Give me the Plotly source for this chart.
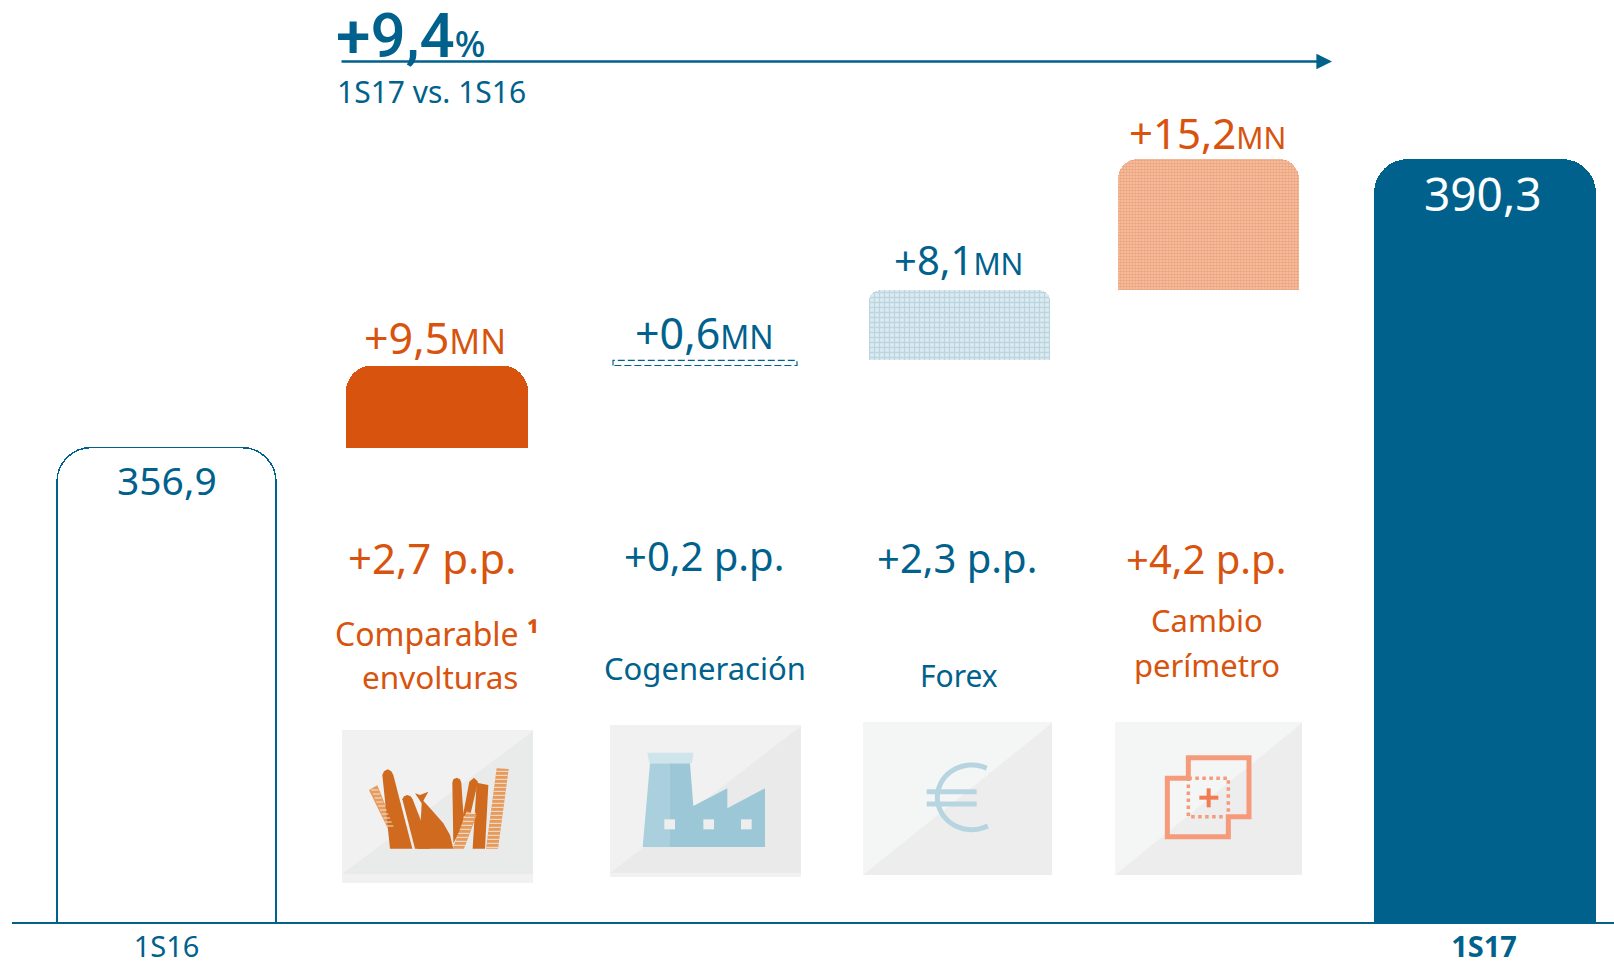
import math
import plotly.graph_objects as go

# ---------- data ----------
CATEGORIES = ["1S16", "Comparable envolturas", "Cogeneración", "Forex", "Cambio perímetro", "1S17"]
START_VALUE = 356.9
END_VALUE = 390.3
STEP_VALUES = [9.5, 0.6, 8.1, 15.2]
STEP_TEXT = ["+9,5", "+0,6", "+8,1", "+15,2"]
PP_TEXT = ["+2,7 p.p.", "+0,2 p.p.", "+2,3 p.p.", "+4,2 p.p."]
TICK_TEXT = ["1S16", "<b>1S17</b>"]

# ---------- layout constants ----------
W, H = 1614, 964
BASE_PX = 922
Y_MIN, Y_MAX = 302.0, 408.7
SLOT = [166.5, 437, 705, 959.5, 1208.5, 1485]
WIDTH = [219, 182, 184, 181, 181, 222]
BLUE = "#00628C"
ORANGE = "#D8530D"
FONT = "Noto Sans"


def fx(x):
    return x / W


def fy(y):
    return 1 - y / H


def poly(points, close=True):
    s = "M " + " L ".join(f"{fx(x):.5f},{fy(y):.5f}" for x, y in points)
    return s + (" Z" if close else "")


shapes = []


def add_path(points, fill=None, line=None, lw=0, close=True, dash=None):
    d = dict(type="path", xref="paper", yref="paper", path=poly(points, close), layer="below")
    d["fillcolor"] = fill if fill else "rgba(0,0,0,0)"
    d["line"] = dict(color=line if line else "rgba(0,0,0,0)", width=lw)
    if dash:
        d["line"]["dash"] = dash
    shapes.append(d)


def panel(x0, y0, x1, y1, light, dark, dy=0):
    add_path([(x0, y0), (x1, y0), (x1, y1), (x0, y1)], fill=light)
    add_path([(x1, y0 + 1), (x1, y1 - dy), (x0, y1 - dy)], fill=dark)


def z2(pts):
    return [(320 + x / 3, 710 + y / 3) for x, y in pts]


def z3(pts):
    return [(850 + x / 3, 710 + y / 3) for x, y in pts]


# pictogram 1: casings
panel(342, 730, 533, 883, "#F1F1F1", "#E9EAEA", dy=9)
OR = "#CF6A1E"
ORL = "#E59A5E"
add_path(z2([(147, 240), (172, 226), (222, 350), (203, 355)]), fill=ORL)
add_path(z2([(187, 195), (192, 184), (203, 178), (214, 184), (220, 195), (277, 416), (210, 416)]), fill=OR)
add_path(z2([(247, 268), (252, 259), (262, 255), (272, 259), (278, 268), (300, 325), (330, 416), (285, 416)]), fill=OR)
add_path(z2([(285, 250), (300, 255), (325, 245), (310, 272), (335, 300), (370, 340), (390, 375), (400, 416),
             (292, 416), (303, 320), (305, 280)]), fill=OR)
add_path(z2([(397, 218), (400, 208), (410, 203), (420, 208), (424, 218), (432, 340), (400, 400)]), fill=OR)
add_path(z2([(428, 320), (448, 215), (462, 203), (474, 215), (452, 310)]), fill=OR)
add_path(z2([(470, 218), (505, 225), (495, 416), (458, 416)]), fill=OR)
add_path(z2([(440, 303), (470, 315), (432, 416), (398, 416)]), fill=ORL)
add_path(z2([(530, 175), (566, 177), (534, 416), (498, 416)]), fill=ORL)
# white hatching of the netted casings
for yy in range(184, 416, 12):
    t_ = (yy - 175) / 241
    add_path(z2([(530 - 32 * t_, yy), (566 - 32 * t_, yy)]), line="#F6E3D2", lw=1, close=False)
for yy in range(310, 416, 12):
    t_ = (yy - 303) / 113
    add_path(z2([(440 - 42 * t_, yy), (470 - 38 * t_, yy)]), line="#F6E3D2", lw=1, close=False)
for yy in range(240, 352, 12):
    t_ = (yy - 233) / 120
    add_path(z2([(150 + 53 * t_, yy), (172 + 50 * t_, yy)]), line="#F6E3D2", lw=1, close=False)

# pictogram 2: factory
panel(610, 725, 801, 877, "#F1F1F1", "#EAEAEA", dy=4)
add_path(z2([(990, 160), (1050, 160), (1050, 411), (968, 411)]), fill="#A9D0DC")
add_path(z2([(1050, 160), (1110, 160), (1120, 288), (1222, 235), (1222, 295), (1335, 235), (1335, 411), (1050, 411)]), fill="#9CC7D6")
add_path(z2([(982, 128), (1120, 128), (1116, 160), (988, 160)]), fill="#CFE5EC")
for wx in (1033, 1150, 1263):
    add_path(z2([(wx, 328), (wx + 32, 328), (wx + 32, 358), (wx, 358)]), fill="#EEEEEE")

# pictogram 3: euro
panel(863, 722, 1052, 875, "#F4F6F6", "#EDEDED")
EU = "#B6D5E0"
arc = [(365 - 103 * math.cos(math.radians(a)), 262 - 97 * math.sin(math.radians(a))) for a in range(-118, 119, 6)]
add_path(z3(arc), line=EU, lw=5, close=False)
add_path(z3([(230, 245), (380, 245)]), line=EU, lw=5, close=False)
add_path(z3([(230, 282), (380, 282)]), line=EU, lw=5, close=False)

# pictogram 4: perimeter
panel(1115, 722, 1302, 875, "#F4F6F6", "#EDEDED")
add_path(z3([(1015, 143), (1197, 143), (1197, 320), (1135, 320), (1135, 380), (952, 380), (952, 205), (1015, 205)]),
         line="#F59A7B", lw=5)
add_path(z3([(1015, 205), (1135, 205), (1135, 320), (1015, 320)]), line="#F59A7B", lw=3.5, dash="dot")
add_path(z3([(1048, 263), (1105, 263)]), line="#F27B52", lw=4, close=False)
add_path(z3([(1076, 235), (1076, 292)]), line="#F27B52", lw=4, close=False)

# ---------- marks ----------
tops = [START_VALUE]
for v in STEP_VALUES:
    tops.append(tops[-1] + v)
bases = tops[:-1]
step_tops = tops[1:]

fig = go.Figure()
fig.add_bar(x=[SLOT[0]], y=[START_VALUE], width=[WIDTH[0]], name=CATEGORIES[0],
            marker=dict(color="white", line=dict(color=BLUE, width=1.5), cornerradius=34))
fig.add_bar(x=[SLOT[5]], y=[END_VALUE], width=[WIDTH[5]], name=CATEGORIES[5],
            marker=dict(color=BLUE, line=dict(width=0), cornerradius=38))

# each rounded step lives on its own overlaid y axis, so its corner radius stays its own
step_styles = [
    dict(color=ORANGE, cornerradius=26),
    dict(color="rgba(0,0,0,0)"),
    dict(color="#C7DDE6", cornerradius=10,
         pattern=dict(shape="+", fgcolor="#9CC1D2", bgcolor="#DDEAF0", size=5, solidity=0.45)),
    dict(color="#F3B896", cornerradius=20,
         pattern=dict(shape=".", fgcolor="#E5804F", bgcolor="#F5C5A9", size=3, solidity=0.6)),
]
for i, v in enumerate(STEP_VALUES):
    ya = f"y{i + 2}"
    fig.add_bar(x=[SLOT[i + 1]], y=[bases[i]], width=[WIDTH[i + 1]], yaxis=ya, name="base",
                marker=dict(color="rgba(0,0,0,0)", line=dict(width=0), cornerradius=step_styles[i].get("cornerradius", 0)))
    fig.add_bar(x=[SLOT[i + 1]], y=[v], width=[WIDTH[i + 1]], yaxis=ya, name=CATEGORIES[i + 1],
                marker=dict(line=dict(width=0), **step_styles[i]))

# dashed outline of the very thin step
c, w, b, t = SLOT[2], WIDTH[2], bases[1], step_tops[1]
fig.add_scatter(x=[c - w / 2, c - w / 2, c + w / 2, c + w / 2, c - w / 2], y=[b, t, t, b, b], mode="lines",
                line=dict(color=BLUE, width=1.2, dash="7px,3px"), name=CATEGORIES[2])

ann = []


def label(text, x, y, size, color, anchor="center", weight=None, family=FONT):
    f = dict(family=family, size=size, color=color)
    if weight:
        f["weight"] = weight
    ann.append(dict(text=text, x=fx(x), y=fy(y), xref="paper", yref="paper", showarrow=False,
                    xanchor=anchor, yanchor="middle", font=f))


# headline: Roboto has a lower ascent, so the text box stays inside the page
label(f'+9,4<span style="font-size:36px;font-family:\'{FONT}\'">%</span>', 334, 35.5, 62, BLUE, "left", 500, "Roboto")
label("1S17 vs. 1S16", 335, 91, 30, BLUE, "left")

# growth arrow
ann.append(dict(text="", x=fx(1332), y=fy(61.5), xref="paper", yref="paper", axref="pixel", ayref="pixel",
                ax=-992, ay=0, showarrow=True, arrowhead=2, arrowsize=1.3, arrowwidth=2.4, arrowcolor=BLUE))

step_colors = [ORANGE, BLUE, BLUE, ORANGE]
step_sizes = [(43, 34), (43, 32), (40, 30), (42, 30)]
step_shift = [-3, -4, 1, -4]
step_x = [435, 704, 958, 1207]
for i, txt in enumerate(STEP_TEXT):
    s, m = step_sizes[i]
    ann.append(dict(text=f'{txt}<span style="font-size:{m}px">MN</span>', x=step_x[i], y=step_tops[i],
                    xref="x", yref="y", showarrow=False, xanchor="center", yanchor="bottom", yshift=step_shift[i],
                    font=dict(family=FONT, size=s, color=step_colors[i])))

ann.append(dict(text=f"{START_VALUE}".replace(".", ","), x=SLOT[0], y=START_VALUE, xref="x", yref="y",
                showarrow=False, yanchor="top", yshift=-3, font=dict(family=FONT, size=39, color=BLUE)))
ann.append(dict(text=f"{END_VALUE}".replace(".", ","), x=1483, y=END_VALUE, xref="x", yref="y",
                showarrow=False, yanchor="top", yshift=-1, font=dict(family=FONT, size=46, color="white")))

pp_x = [432, 703.5, 957, 1206]
pp_y = [557, 555, 557, 558]
pp_size = [42, 40, 40, 40]
for i, txt in enumerate(PP_TEXT):
    label(txt, pp_x[i], pp_y[i], pp_size[i], step_colors[i])

label("Comparable <b>¹</b>", 437, 633, 32, ORANGE)
label("envolturas", 440.5, 676, 31.5, ORANGE)
label("Cogeneración", 704.5, 668, 31, BLUE)
label("Forex", 959, 675, 30, BLUE)
label("Cambio", 1207, 620, 31, ORANGE)
label("perímetro", 1207, 665, 31, ORANGE)

DOMAIN = [(H - BASE_PX) / H, 1]
fig.update_layout(
    width=W, height=H, margin=dict(l=0, r=0, t=0, b=0, autoexpand=False), autosize=False,
    paper_bgcolor="white", plot_bgcolor="white", showlegend=False, barmode="stack",
    hovermode=False, shapes=shapes, annotations=ann,
    xaxis=dict(domain=[12 / W, 1], range=[12, W], showgrid=False, zeroline=False, showline=True,
               linecolor=BLUE, linewidth=1.5, ticks="", tickmode="array",
               tickvals=[SLOT[0], SLOT[5] - 1], ticktext=TICK_TEXT, ticklabelstandoff=-2,
               tickfont=dict(family=FONT, size=29, color=BLUE)),
    yaxis=dict(domain=DOMAIN, range=[Y_MIN, Y_MAX], visible=False),
)
for n in range(2, 6):
    fig.update_layout({f"yaxis{n}": dict(domain=DOMAIN, range=[Y_MIN, Y_MAX], visible=False, overlaying="y")})

fig.write_html("out.html", config=dict(displayModeBar=False),
               post_script="document.body.style.margin='0';document.body.style.overflow='hidden';")
